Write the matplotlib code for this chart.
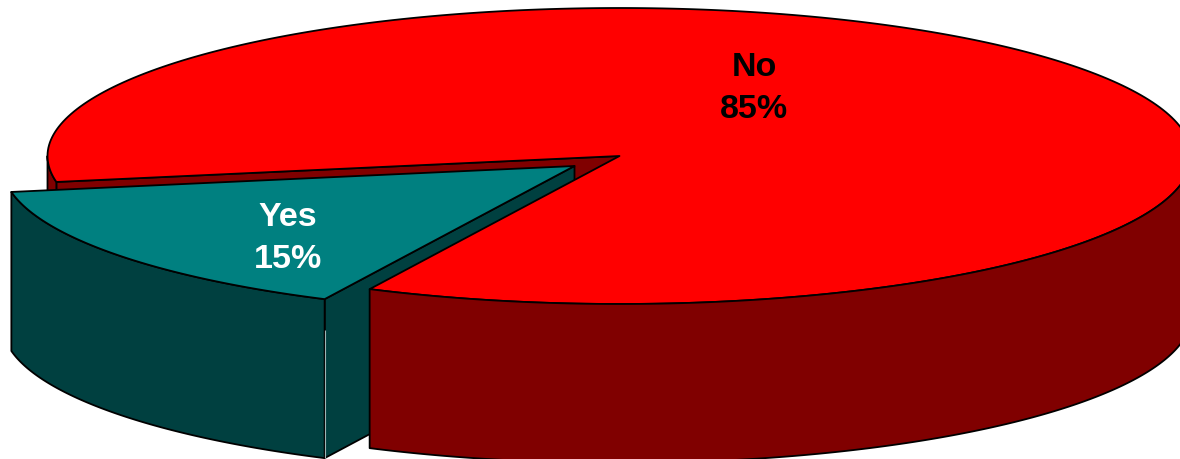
import numpy as np
import matplotlib
matplotlib.use("Agg")
import matplotlib.pyplot as plt
from matplotlib.patches import Polygon

categories = ["Yes", "No"]
values = [15, 85]
top_colors = ["#008080", "#FF0000"]
wall_colors = ["#004040", "#800000"]
text_colors = ["white", "black"]

W, H = 1180, 459
RX, RY, DEPTH = 572, 148, 159
CENTER_NO = (619.5, 156)
CENTER_YES = (574.5, 166)
YES_END_ANGLE = 169.9
LW = 1.3

yes_span = 360 * values[0] / sum(values)
yes_start = YES_END_ANGLE - yes_span
no_start = YES_END_ANGLE
no_end = yes_start + 360


def arc(c, t0, t1, dy=0):
    t = np.radians(np.linspace(t0, t1, 300))
    return np.column_stack([c[0] + RX * np.cos(t), c[1] + RY * np.sin(t) + dy])


def wall(c, t0, t1):
    return np.vstack([arc(c, t0, t1), arc(c, t1, t0, DEPTH)])


def radial_wall(c, t):
    edge = arc(c, t, t)[0]
    return np.array([c, edge, edge + [0, DEPTH], np.array(c) + [0, DEPTH]])


def top(c, t0, t1):
    return np.vstack([[c], arc(c, t0, t1)])


fig = plt.figure(figsize=(W / 100, H / 100), dpi=100)
ax = fig.add_axes([0, 0, 1, 1])
ax.set_xlim(0, W)
ax.set_ylim(H, 0)
ax.axis("off")


def add(points, color):
    ax.add_patch(Polygon(points, closed=True, facecolor=color, edgecolor="black",
                         linewidth=LW, joinstyle="round"))


# back to front
add(radial_wall(CENTER_NO, no_start), wall_colors[1])
add(wall(CENTER_NO, no_start, 180), wall_colors[1])
add(radial_wall(CENTER_YES, yes_start), wall_colors[0])
add(top(CENTER_NO, no_start, no_end), top_colors[1])
add(wall(CENTER_NO, 0, yes_start), wall_colors[1])
add(wall(CENTER_YES, yes_start, yes_start + yes_span), wall_colors[0])
add(top(CENTER_YES, yes_start, yes_start + yes_span), top_colors[0])

# light seam on the teal corner
corner = arc(CENTER_YES, yes_start, yes_start)[0]
ax.plot([corner[0], corner[0]], [corner[1] + 31, corner[1] + DEPTH],
        color="#9fb4b4", lw=0.8, solid_capstyle="butt")

font = dict(family=["Liberation Sans", "DejaVu Sans"], fontsize=24.5, fontweight="bold",
            ha="center", va="center", linespacing=1.0)
label_pos = [(288, 217, 259), (754, 67, 110)]
for name, val, col, (x, y1, y2) in zip(categories, values, text_colors, label_pos):
    ax.text(x, y1, name, color=col, **font)
    ax.text(x, y2, f"{val}%", color=col, **font)

fig.savefig("out.png", dpi=100)
